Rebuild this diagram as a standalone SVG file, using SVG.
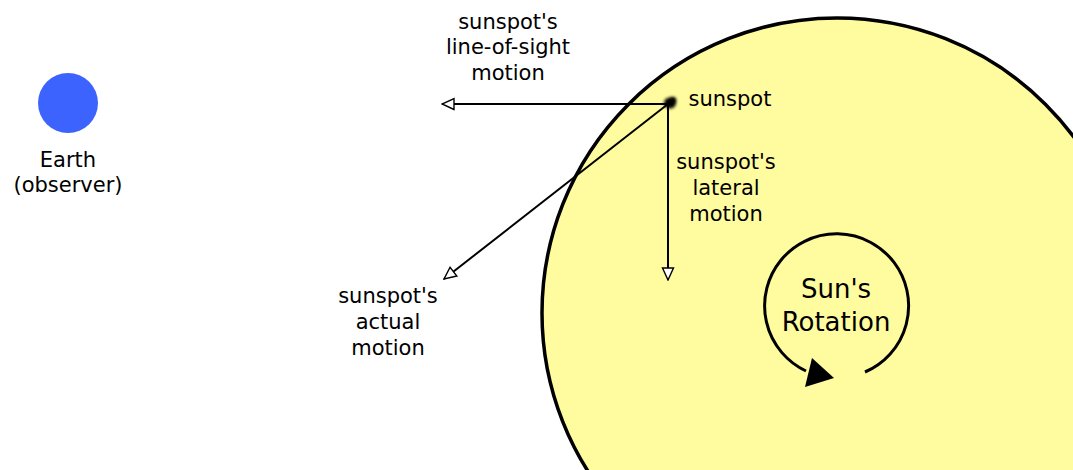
<svg xmlns="http://www.w3.org/2000/svg" width="1073" height="470" viewBox="0 0 1073 470">
<style>
text{font-family:"DejaVu Sans","Verdana",sans-serif;font-size:21px;fill:#000;text-anchor:middle}
.big{font-size:26px}
.conn{stroke:#000;stroke-width:2;fill:none}
</style>
<defs>
<marker id="open" viewBox="0 0 14 14" refX="13" refY="7" markerWidth="14" markerHeight="14" markerUnits="userSpaceOnUse" orient="auto">
<path d="M1,1.5 L13,7 L1,12.5 Z" fill="#fff" stroke="#000" stroke-width="1.4"/>
</marker>
<filter id="blur" x="-1" y="-1" width="3" height="3"><feGaussianBlur stdDeviation="1.6"/></filter>
</defs>
<rect width="1073" height="470" fill="#fff"/>
<g id="sun">
<circle cx="837" cy="313" r="295" fill="#fffb9f" stroke="#000" stroke-width="3.5"/>
</g>
<g id="earth">
<circle cx="68" cy="103" r="30" fill="#3d63ff"/>
<text x="68" y="167">Earth</text>
<text x="68" y="192">(observer)</text>
</g>
<g id="sunspot">
<ellipse cx="670" cy="103" rx="6" ry="5.5" fill="#000" filter="url(#blur)"/>
<ellipse cx="673" cy="100" rx="3" ry="3" fill="#000" filter="url(#blur)"/>
<text x="730" y="106">sunspot</text>
</g>
<g id="rotation">
<path d="M865,372 A72,72 0 1 0 806,371" fill="none" stroke="#000" stroke-width="3"/>
<polygon points="812,358 805,387 834,378" fill="#000"/>
<text class="big" x="836" y="298">Sun's</text>
<text class="big" x="836" y="331">Rotation</text>
</g>
<g id="label-los">
<text x="508" y="29">sunspot's</text>
<text x="508" y="54">line-of-sight</text>
<text x="508" y="80">motion</text>
</g>
<g id="label-lateral">
<text x="726" y="169">sunspot's</text>
<text x="726" y="195">lateral</text>
<text x="726" y="221">motion</text>
</g>
<g id="label-actual">
<text x="388" y="303">sunspot's</text>
<text x="388" y="329">actual</text>
<text x="388" y="355">motion</text>
</g>
<g id="connectors">
<line class="conn" x1="668" y1="104" x2="442" y2="104" marker-end="url(#open)"/>
<line class="conn" x1="668" y1="104" x2="668" y2="280" marker-end="url(#open)"/>
<line class="conn" x1="668" y1="104" x2="444" y2="279" marker-end="url(#open)"/>
</g>
</svg>
